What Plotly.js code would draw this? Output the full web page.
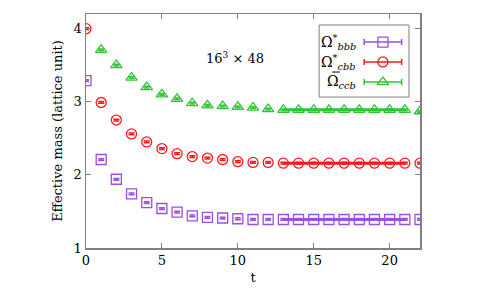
<!DOCTYPE html>
<html><head><meta charset="utf-8">
<script src="https://cdn.plot.ly/plotly-3.0.1.min.js"></script>
<style>html,body{margin:0;padding:0;background:#fff}#chart{width:488px;height:293px}</style>
</head><body><div id="chart"></div>
<script>
const t = [0,1,2,3,4,5,6,7,8,9,10,11,12,13,14,15,16,17,18,19,20,21,22];
const bbb = [3.29,2.21,1.94,1.74,1.62,1.54,1.49,1.44,1.42,1.41,1.40,1.39,1.39,1.39,1.39,1.39,1.39,1.39,1.39,1.39,1.39,1.39,1.39];
const cbb = [4.00,2.99,2.75,2.56,2.45,2.36,2.29,2.25,2.23,2.21,2.18,2.17,2.17,2.16,2.16,2.16,2.16,2.16,2.16,2.16,2.16,2.16,2.16];
const ccbT = [1,2,3,4,5,6,7,8,9,10,11,12,13,14,15,16,17,18,19,20,21,22];
const ccb = [3.71,3.50,3.33,3.20,3.10,3.04,2.98,2.95,2.94,2.93,2.92,2.90,2.89,2.89,2.89,2.89,2.89,2.89,2.89,2.89,2.89,2.87];
const errBbb = t.map(()=>0.012);
const errCbb = t.map(()=>0.012);
const errCcb = ccbT.map(()=>0.012);
const fitT = [13,21];
const fitBbb = [1.39,1.39];
const fitCbb = [2.16,2.16];
const fitCcb = [2.89,2.89];
const names = ['Ω<sup>*</sup><sub><i>bbb</i></sub>','Ω<sup>*</sup><sub><i>cbb</i></sub>','Ω<sub><i>ccb</i></sub>'];
const colors = ['#9b4fe3','#ff1a1a','#33c433'];
const symbols = ['square-open','circle-open','triangle-up-open'];
const FONT = "'DejaVu Serif', 'Liberation Serif', serif";

const traces = [];
const series = [[t,bbb,errBbb,fitBbb],[t,cbb,errCbb,fitCbb],[ccbT,ccb,errCcb,fitCcb]];
series.forEach((s,i)=>{
  traces.push({x:fitT,y:s[3],mode:'lines',line:{color:colors[i],width:3},showlegend:false,hoverinfo:'skip'});
  traces.push({x:s[0],y:s[1],mode:'markers',showlegend:false,
    marker:{symbol:symbols[i],size:10,color:colors[i],line:{width:1.3,color:colors[i]}},
    error_y:{type:'data',array:s[2],visible:true,color:colors[i],thickness:1.5,width:3}});
});
const legY = [0.880,0.795,0.709];
legY.forEach((yy,i)=>{
  traces.push({x:[0.889],y:[yy],xaxis:'x2',yaxis:'y2',mode:'markers',showlegend:false,hoverinfo:'skip',
    marker:{symbol:symbols[i],size:10,color:colors[i],line:{width:1.3,color:colors[i]}},
    error_x:{type:'constant',value:0.056,visible:true,color:colors[i],thickness:1.5,width:3}});
});
const ann = legY.map((yy,i)=>({xref:'paper',yref:'paper',x:0.815,y:yy,xanchor:'right',yanchor:'middle',
  text:names[i],showarrow:false,font:{family:FONT,size:14,color:'#000'}}));
ann.push({xref:'x',yref:'y',x:9.8,y:3.6,text:'16<sup>3</sup> × 48',showarrow:false,
  font:{family:FONT,size:13,color:'#000'}});

const ax = {showgrid:false,zeroline:false,showline:true,linecolor:'#808080',linewidth:1.5,mirror:'ticks',
  ticks:'inside',ticklen:5,tickcolor:'#808080',tickwidth:1,tickfont:{family:FONT,size:13,color:'#000'}};
const layout = {
  width:488,height:293,margin:{l:86,r:68,t:14,b:45},paper_bgcolor:'#fff',plot_bgcolor:'#fff',
  font:{family:FONT},
  xaxis:Object.assign({},ax,{range:[0,22],tickvals:[0,5,10,15,20],
    title:{text:'t',font:{family:FONT,size:13,color:'#000'},standoff:6}}),
  yaxis:Object.assign({},ax,{range:[1,4.2],tickvals:[1,2,3,4],
    title:{text:'Effective mass (lattice unit)',font:{family:FONT,size:13,color:'#000'},standoff:8}}),
  xaxis2:{overlaying:'x',range:[0,1],visible:false,fixedrange:true},
  yaxis2:{overlaying:'y',range:[0,1],visible:false,fixedrange:true},
  shapes:[{type:'rect',xref:'paper',yref:'paper',x0:0.698,x1:0.967,y0:0.645,y1:0.953,
    line:{color:'#808080',width:1},fillcolor:'rgba(255,255,255,0)'},
    {type:'line',xref:'paper',yref:'paper',x0:0.737,x1:0.760,y0:0.752,y1:0.752,line:{color:'#000',width:1}}],
  annotations:ann,showlegend:false
};
Plotly.newPlot('chart',traces,layout,{staticPlot:true});
</script></body></html>
